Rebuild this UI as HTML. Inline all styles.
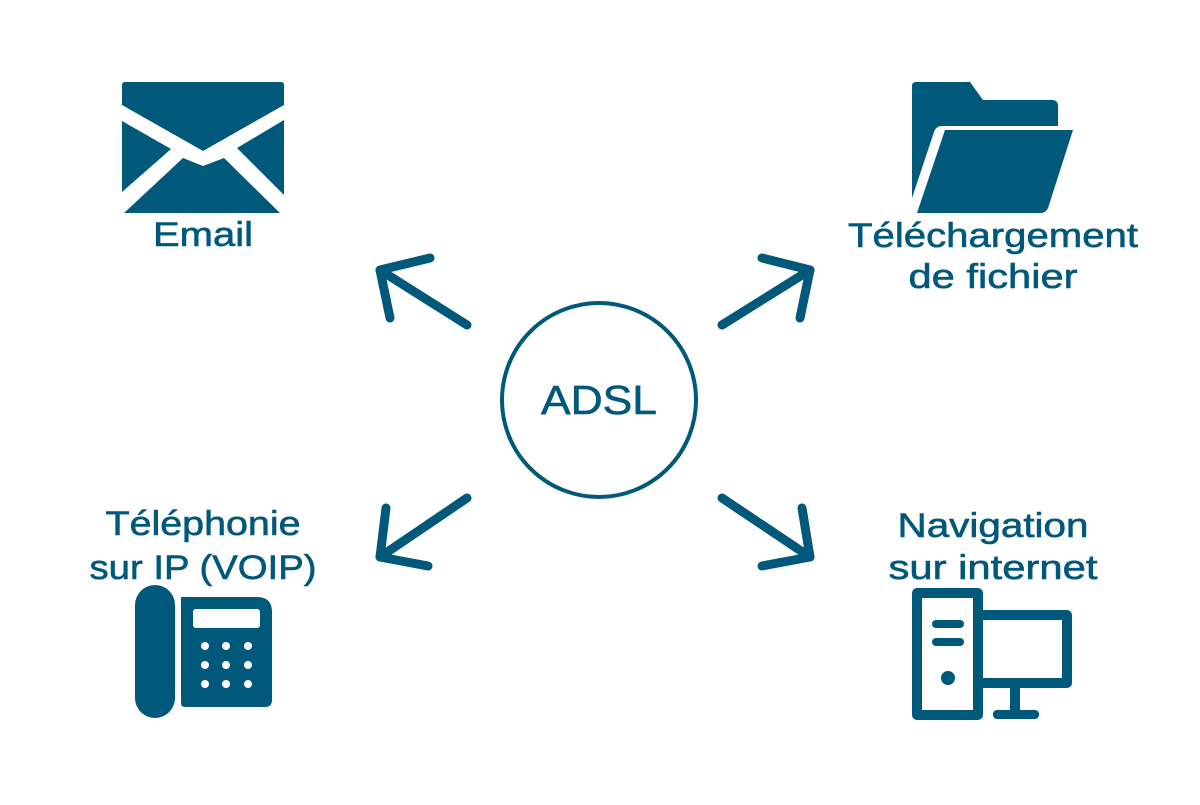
<!DOCTYPE html>
<html><head><meta charset="utf-8"><style>body{margin:0;background:#fff}</style></head><body>
<svg width="1200" height="800" viewBox="0 0 1200 800" xmlns="http://www.w3.org/2000/svg">
<g fill="#00587a">
<!-- Email -->
<path d="M125,82 L281,82 Q284,82 284,85 L284,105 L203,151 L122,105 L122,85 Q122,82 125,82Z"/>
<path d="M122,121 L171,149 L122,192Z"/>
<path d="M284,120 L237,148 L284,195Z"/>
<path d="M124,213 L183,158 L203,166 L224,158 L280,213Z"/>
<!-- Folder -->
<path d="M916,82 L970,82 L983,100 L1052,100 Q1058,100 1058,106 L1058,126 L942,126 Q936,126 934,132 L912,198 L912,86 Q912,82 916,82Z"/>
<path d="M945,130 L1073,130 L1048,208 Q1046,213 1040,213 L917,213 Z"/>
<!-- Phone -->
<rect x="135" y="585" width="40" height="133" rx="20"/>
<path d="M181,597 L257,597 Q272,597 272,612 L272,700 Q272,707 265,707 L185,707 Q181,707 181,703Z"/>
</g>
<rect x="193" y="609" width="67" height="19" rx="3" fill="#fff"/>
<g fill="#fff">
<circle cx="205" cy="646" r="4"/><circle cx="226" cy="646" r="4"/><circle cx="248" cy="646" r="4"/>
<circle cx="205" cy="665" r="4"/><circle cx="226" cy="665" r="4"/><circle cx="248" cy="665" r="4"/>
<circle cx="205" cy="684" r="4"/><circle cx="226" cy="684" r="4"/><circle cx="248" cy="684" r="4"/>
</g>
<!-- Computer -->
<g fill="none" stroke="#00587a" stroke-width="10" stroke-linejoin="round">
<rect x="917" y="593" width="61" height="122"/>
<rect x="978" y="615" width="89" height="68"/>
</g>
<g fill="#00587a">
<rect x="1010" y="686" width="10" height="26"/>
<rect x="993" y="710" width="46" height="9" rx="4"/>
<rect x="932" y="620" width="32" height="8" rx="4"/>
<rect x="932" y="638" width="32" height="8" rx="4"/>
<circle cx="948" cy="678" r="7"/>
</g>
<!-- Arrows -->
<g stroke="#00587a" stroke-width="9" fill="none" stroke-linecap="round" stroke-linejoin="round">
<line x1="467" y1="325" x2="380" y2="270"/><polyline points="430,258 380,270 390,318"/>
<line x1="722" y1="325" x2="810" y2="270"/><polyline points="762,258 810,270 800,318"/>
<line x1="467" y1="498" x2="380" y2="557"/><polyline points="386,508 380,557 428,566"/>
<line x1="722" y1="498" x2="810" y2="557"/><polyline points="802,508 810,557 762,566"/>
</g>
<circle cx="599" cy="400" r="97" fill="none" stroke="#00587a" stroke-width="4"/>
<g fill="#00587a" font-family="Liberation Sans, sans-serif" text-anchor="middle" font-size="34" stroke="#00587a" stroke-width="0.6" lengthAdjust="spacingAndGlyphs">
<text x="599" y="414" font-size="41" textLength="116" lengthAdjust="spacingAndGlyphs">ADSL</text>
<text x="203" y="246" textLength="100" lengthAdjust="spacingAndGlyphs">Email</text>
<text x="993" y="247" textLength="290" lengthAdjust="spacingAndGlyphs">Téléchargement</text>
<text x="993" y="288" textLength="169" lengthAdjust="spacingAndGlyphs">de fichier</text>
<text x="203" y="535" textLength="195" lengthAdjust="spacingAndGlyphs">Téléphonie</text>
<text x="203" y="579" textLength="227" lengthAdjust="spacingAndGlyphs">sur IP (VOIP)</text>
<text x="993" y="537" textLength="191" lengthAdjust="spacingAndGlyphs">Navigation</text>
<text x="993" y="579" textLength="209" lengthAdjust="spacingAndGlyphs">sur internet</text>
</g>
</svg>
</body></html>
